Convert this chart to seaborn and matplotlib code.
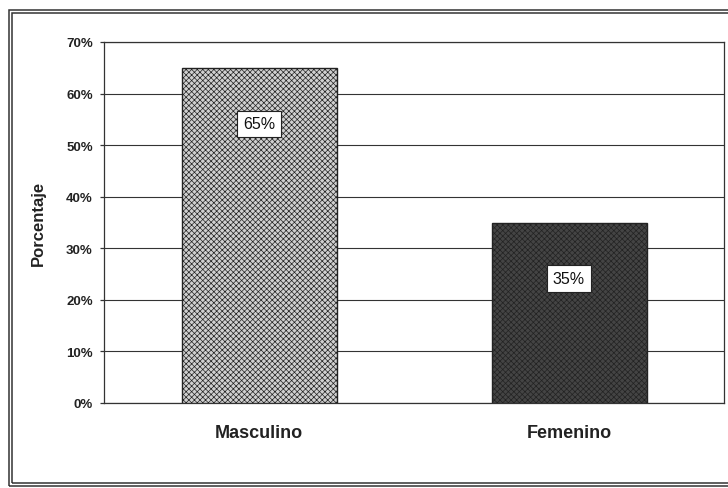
import matplotlib
matplotlib.use("Agg")
from matplotlib import pyplot as plt
from matplotlib.patches import Rectangle
from matplotlib.ticker import PercentFormatter, FixedLocator
import seaborn as sns
import pandas as pd

categorias = ["Masculino", "Femenino"]
porcentajes = [0.65, 0.35]
caras = ["#d0d0d0", "#444444"]
tramas = ["#505050", "#9a9a9a"]

sns.set_style("white")
plt.rcParams["font.family"] = ["Liberation Sans", "DejaVu Sans"]
plt.rcParams["hatch.linewidth"] = 0.5

df = pd.DataFrame({"sexo": categorias, "pct": porcentajes})

fig = plt.figure(figsize=(7.28, 4.89), dpi=100)
ax = fig.add_axes([104/728, 1-404/489, 620/728, 361/489])

sns.barplot(data=df, x="sexo", y="pct", hue="sexo", palette=caras,
            width=0.5, legend=False, ax=ax, zorder=3)

for p, tc in zip(ax.patches, tramas):
    p.set_edgecolor("#222222")
    p.set_hatch("xxxxxx")
    if hasattr(p, "set_hatchcolor"):
        p.set_hatchcolor(tc)
    p.set_linewidth(1.0)

# etiquetas de valor
for p, v in zip(ax.patches, porcentajes):
    ax.annotate(f"{v:.0%}", xy=(p.get_x() + p.get_width()/2, v),
                xytext=(0, -56), textcoords="offset pixels",
                ha="center", va="center", fontsize=11.5, color="#111111",
                bbox=dict(boxstyle="square,pad=0.35", fc="white", ec="#222222", lw=0.8),
                zorder=5)

ax.set_ylim(0, 0.70)
ax.set_xlim(-0.5, 1.5)
ax.yaxis.set_major_locator(FixedLocator([i/10 for i in range(8)]))
ax.yaxis.set_major_formatter(PercentFormatter(1.0, decimals=0))
ax.grid(axis="y", color="#333333", lw=0.8, zorder=0)
ax.set_axisbelow(True)

ax.set_xticks([0, 1])
ax.set_xticklabels(categorias)
ax.xaxis.set_minor_locator(FixedLocator([0.5, 1.5]))
ax.tick_params(axis="x", which="major", length=0, pad=15, labelsize=13, labelcolor="#222222")
ax.tick_params(axis="x", which="minor", length=6, direction="inout", width=0.9, color="#333333")
for lab in ax.get_xticklabels():
    lab.set_fontweight("bold")
ax.tick_params(axis="y", which="major", length=3, direction="out", width=0.9,
               color="#333333", pad=5, labelsize=9.5, labelcolor="#222222", left=True)
for lab in ax.get_yticklabels():
    lab.set_fontweight("bold")

ax.set_xlabel("")
ax.set_ylabel("Porcentaje", fontsize=12, fontweight="bold", color="#222222")
ax.yaxis.set_label_coords(-0.094, 0.5)

for s in ax.spines.values():
    s.set_visible(True)
    s.set_color("#333333")
    s.set_linewidth(0.9)

# marco doble exterior
W, H = 728, 489
for (l, t, b) in [(9, 11, 487), (12, 14, 484)]:
    fig.add_artist(Rectangle((l/W, 1-b/H), (760-l)/W, (b-t)/H, transform=fig.transFigure,
                             fill=False, ec="#333333", lw=1.1))

fig.savefig("out.png", dpi=100)
